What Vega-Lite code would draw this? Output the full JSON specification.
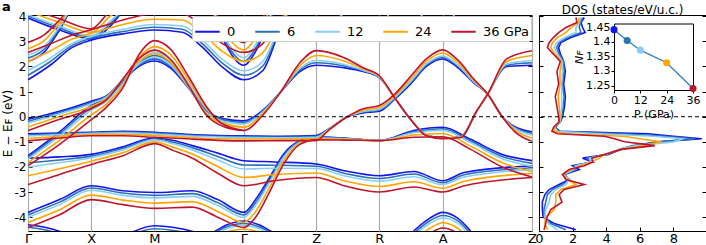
{"$schema":"https://vega.github.io/schema/vega-lite/v6.json","padding":{"left":0,"top":0,"right":0,"bottom":0},"bounds":"flush","spacing":7,
"config":{"font":"DejaVu Sans","view":{"stroke":"black","strokeWidth":1},"axis":{"labelColor":"black","titleColor":"black","domainColor":"black","tickColor":"black","labelFontSize":13,"titleFontSize":13,"titleFontWeight":"normal","grid":false,"labelFlush":false,"labelOverlap":false,"minExtent":0},"title":{"fontWeight":"normal","color":"black"}},
"datasets":{
"nf":[{"p":0,"n":1.441},{"p":6,"n":1.404},{"p":12,"n":1.371},{"p":24,"n":1.328},{"p":36,"n":1.24}],
"dos":[
{"p":0,"e":3.95,"d":2.7},{"p":0,"e":3.75,"d":2.5},{"p":0,"e":3.55,"d":2.6},{"p":0,"e":3.35,"d":2.75},{"p":0,"e":3.15,"d":1.9},{"p":0,"e":2.95,"d":1.3},{"p":0,"e":2.75,"d":1.17},{"p":0,"e":2.5,"d":1.27},{"p":0,"e":2.2,"d":1.47},{"p":0,"e":1.8,"d":1.57},{"p":0,"e":1.3,"d":1.47},{"p":0,"e":0.8,"d":1.57},{"p":0,"e":0.4,"d":1.52},{"p":0,"e":0.0,"d":1.4},{"p":0,"e":-0.2,"d":1.27},{"p":0,"e":-0.42,"d":0.97},{"p":0,"e":-0.58,"d":1.25},{"p":0,"e":-0.68,"d":6.5},{"p":0,"e":-0.78,"d":8.0},{"p":0,"e":-0.88,"d":9.7},{"p":0,"e":-1.0,"d":7.0},{"p":0,"e":-1.15,"d":5.8},{"p":0,"e":-1.3,"d":4.9},{"p":0,"e":-1.5,"d":4.15},{"p":0,"e":-1.65,"d":2.6},{"p":0,"e":-1.8,"d":3.2},{"p":0,"e":-1.95,"d":2.0},{"p":0,"e":-2.1,"d":2.4},{"p":0,"e":-2.3,"d":1.5},{"p":0,"e":-2.5,"d":1.8},{"p":0,"e":-2.7,"d":1.2},{"p":0,"e":-2.9,"d":0.6},{"p":0,"e":-3.1,"d":0.35},{"p":0,"e":-3.4,"d":0.2},{"p":0,"e":-3.7,"d":0.2},{"p":0,"e":-4.0,"d":0.25},{"p":0,"e":-4.25,"d":0.9},{"p":0,"e":-4.5,"d":2.2},
{"p":6,"e":3.95,"d":2.6},{"p":6,"e":3.75,"d":2.45},{"p":6,"e":3.55,"d":2.4},{"p":6,"e":3.35,"d":2.5},{"p":6,"e":3.15,"d":1.7},{"p":6,"e":2.95,"d":1.2},{"p":6,"e":2.75,"d":1.05},{"p":6,"e":2.5,"d":1.2},{"p":6,"e":2.2,"d":1.45},{"p":6,"e":1.8,"d":1.5},{"p":6,"e":1.3,"d":1.4},{"p":6,"e":0.8,"d":1.5},{"p":6,"e":0.4,"d":1.45},{"p":6,"e":0.0,"d":1.35},{"p":6,"e":-0.2,"d":1.27},{"p":6,"e":-0.42,"d":0.95},{"p":6,"e":-0.58,"d":1.2},{"p":6,"e":-0.68,"d":5.0},{"p":6,"e":-0.78,"d":7.5},{"p":6,"e":-0.88,"d":9.3},{"p":6,"e":-1.0,"d":7.2},{"p":6,"e":-1.15,"d":5.6},{"p":6,"e":-1.3,"d":4.8},{"p":6,"e":-1.5,"d":4.0},{"p":6,"e":-1.65,"d":2.9},{"p":6,"e":-1.8,"d":3.1},{"p":6,"e":-1.95,"d":2.1},{"p":6,"e":-2.1,"d":2.2},{"p":6,"e":-2.3,"d":1.5},{"p":6,"e":-2.5,"d":1.8},{"p":6,"e":-2.7,"d":1.4},{"p":6,"e":-2.9,"d":0.8},{"p":6,"e":-3.1,"d":0.5},{"p":6,"e":-3.4,"d":0.4},{"p":6,"e":-3.7,"d":0.3},{"p":6,"e":-4.0,"d":0.3},{"p":6,"e":-4.25,"d":0.7},{"p":6,"e":-4.5,"d":1.6},
{"p":12,"e":3.95,"d":2.5},{"p":12,"e":3.75,"d":2.4},{"p":12,"e":3.55,"d":2.2},{"p":12,"e":3.35,"d":2.2},{"p":12,"e":3.15,"d":1.5},{"p":12,"e":2.95,"d":1.05},{"p":12,"e":2.75,"d":0.9},{"p":12,"e":2.5,"d":1.1},{"p":12,"e":2.2,"d":1.4},{"p":12,"e":1.8,"d":1.4},{"p":12,"e":1.3,"d":1.35},{"p":12,"e":0.8,"d":1.35},{"p":12,"e":0.4,"d":1.35},{"p":12,"e":0.0,"d":1.3},{"p":12,"e":-0.2,"d":1.25},{"p":12,"e":-0.42,"d":0.92},{"p":12,"e":-0.58,"d":1.1},{"p":12,"e":-0.68,"d":3.5},{"p":12,"e":-0.78,"d":6.8},{"p":12,"e":-0.88,"d":8.6},{"p":12,"e":-1.0,"d":8.0},{"p":12,"e":-1.15,"d":5.8},{"p":12,"e":-1.3,"d":4.8},{"p":12,"e":-1.5,"d":4.0},{"p":12,"e":-1.65,"d":3.0},{"p":12,"e":-1.8,"d":3.1},{"p":12,"e":-1.95,"d":2.2},{"p":12,"e":-2.1,"d":2.1},{"p":12,"e":-2.3,"d":1.45},{"p":12,"e":-2.5,"d":1.8},{"p":12,"e":-2.7,"d":1.6},{"p":12,"e":-2.9,"d":1.0},{"p":12,"e":-3.1,"d":0.7},{"p":12,"e":-3.4,"d":0.6},{"p":12,"e":-3.7,"d":0.4},{"p":12,"e":-4.0,"d":0.35},{"p":12,"e":-4.25,"d":0.55},{"p":12,"e":-4.5,"d":1.1},
{"p":24,"e":3.95,"d":2.4},{"p":24,"e":3.75,"d":2.35},{"p":24,"e":3.55,"d":1.9},{"p":24,"e":3.35,"d":1.6},{"p":24,"e":3.15,"d":1.1},{"p":24,"e":2.95,"d":0.8},{"p":24,"e":2.75,"d":0.7},{"p":24,"e":2.5,"d":0.95},{"p":24,"e":2.2,"d":1.35},{"p":24,"e":1.8,"d":1.25},{"p":24,"e":1.3,"d":1.25},{"p":24,"e":0.8,"d":1.15},{"p":24,"e":0.4,"d":1.2},{"p":24,"e":0.0,"d":1.25},{"p":24,"e":-0.2,"d":1.22},{"p":24,"e":-0.42,"d":0.9},{"p":24,"e":-0.58,"d":0.9},{"p":24,"e":-0.68,"d":1.6},{"p":24,"e":-0.78,"d":5.0},{"p":24,"e":-0.88,"d":6.0},{"p":24,"e":-1.0,"d":7.3},{"p":24,"e":-1.15,"d":6.2},{"p":24,"e":-1.3,"d":4.9},{"p":24,"e":-1.5,"d":3.9},{"p":24,"e":-1.65,"d":3.6},{"p":24,"e":-1.8,"d":3.1},{"p":24,"e":-1.95,"d":2.5},{"p":24,"e":-2.1,"d":1.9},{"p":24,"e":-2.3,"d":1.4},{"p":24,"e":-2.5,"d":1.7},{"p":24,"e":-2.7,"d":2.2},{"p":24,"e":-2.9,"d":1.3},{"p":24,"e":-3.1,"d":1.0},{"p":24,"e":-3.4,"d":1.0},{"p":24,"e":-3.7,"d":0.9},{"p":24,"e":-4.0,"d":0.4},{"p":24,"e":-4.25,"d":0.35},{"p":24,"e":-4.5,"d":0.5},
{"p":36,"e":3.95,"d":2.2},{"p":36,"e":3.75,"d":2.26},{"p":36,"e":3.55,"d":1.6},{"p":36,"e":3.35,"d":1.17},{"p":36,"e":3.15,"d":0.85},{"p":36,"e":2.95,"d":0.6},{"p":36,"e":2.75,"d":0.5},{"p":36,"e":2.5,"d":0.85},{"p":36,"e":2.2,"d":1.27},{"p":36,"e":1.8,"d":1.07},{"p":36,"e":1.3,"d":1.17},{"p":36,"e":0.8,"d":0.97},{"p":36,"e":0.4,"d":1.07},{"p":36,"e":0.0,"d":1.17},{"p":36,"e":-0.2,"d":1.2},{"p":36,"e":-0.42,"d":0.87},{"p":36,"e":-0.58,"d":0.77},{"p":36,"e":-0.68,"d":1.1},{"p":36,"e":-0.78,"d":3.9},{"p":36,"e":-0.88,"d":4.5},{"p":36,"e":-1.0,"d":5.1},{"p":36,"e":-1.15,"d":6.9},{"p":36,"e":-1.3,"d":4.9},{"p":36,"e":-1.5,"d":3.9},{"p":36,"e":-1.65,"d":3.15},{"p":36,"e":-1.8,"d":3.2},{"p":36,"e":-1.95,"d":2.7},{"p":36,"e":-2.1,"d":1.8},{"p":36,"e":-2.3,"d":1.4},{"p":36,"e":-2.5,"d":1.6},{"p":36,"e":-2.7,"d":2.7},{"p":36,"e":-2.9,"d":1.5},{"p":36,"e":-3.1,"d":1.2},{"p":36,"e":-3.4,"d":1.37},{"p":36,"e":-3.7,"d":0.7},{"p":36,"e":-4.0,"d":0.48},{"p":36,"e":-4.25,"d":0.4},{"p":36,"e":-4.5,"d":0.3}],
"bands":[
{"p":0,"b":1,"k":0,"e":1.47},{"p":0,"b":1,"k":0.35,"e":2.05},{"p":0,"b":1,"k":0.7,"e":2.76},{"p":0,"b":1,"k":1,"e":3.05},{"p":0,"b":1,"k":1.5,"e":3.3},{"p":0,"b":1,"k":2,"e":3.45},{"p":0,"b":1,"k":2.44,"e":3.36},{"p":0,"b":1,"k":2.76,"e":2.76},{"p":0,"b":1,"k":3.08,"e":1.96},{"p":0,"b":1,"k":3.414,"e":1.47},{"p":0,"b":1,"k":3.71,"e":1.83},{"p":0,"b":1,"k":3.98,"e":3.43},{"p":0,"b":1,"k":4.15,"e":4.3},
{"p":6,"b":1,"k":0,"e":1.65},{"p":6,"b":1,"k":0.35,"e":2.19},{"p":6,"b":1,"k":0.7,"e":2.84},{"p":6,"b":1,"k":1,"e":3.12},{"p":6,"b":1,"k":1.5,"e":3.39},{"p":6,"b":1,"k":2,"e":3.56},{"p":6,"b":1,"k":2.44,"e":3.48},{"p":6,"b":1,"k":2.76,"e":2.9},{"p":6,"b":1,"k":3.08,"e":2.12},{"p":6,"b":1,"k":3.414,"e":1.65},{"p":6,"b":1,"k":3.71,"e":2.01},{"p":6,"b":1,"k":3.98,"e":3.5},{"p":6,"b":1,"k":4.15,"e":4.32},
{"p":12,"b":1,"k":0,"e":1.83},{"p":12,"b":1,"k":0.35,"e":2.33},{"p":12,"b":1,"k":0.7,"e":2.92},{"p":12,"b":1,"k":1,"e":3.19},{"p":12,"b":1,"k":1.5,"e":3.48},{"p":12,"b":1,"k":2,"e":3.67},{"p":12,"b":1,"k":2.44,"e":3.61},{"p":12,"b":1,"k":2.76,"e":3.04},{"p":12,"b":1,"k":3.08,"e":2.27},{"p":12,"b":1,"k":3.414,"e":1.83},{"p":12,"b":1,"k":3.71,"e":2.19},{"p":12,"b":1,"k":3.98,"e":3.57},{"p":12,"b":1,"k":4.15,"e":4.33},
{"p":24,"b":1,"k":0,"e":2.2},{"p":24,"b":1,"k":0.35,"e":2.62},{"p":24,"b":1,"k":0.7,"e":3.09},{"p":24,"b":1,"k":1,"e":3.32},{"p":24,"b":1,"k":1.5,"e":3.67},{"p":24,"b":1,"k":2,"e":3.88},{"p":24,"b":1,"k":2.44,"e":3.85},{"p":24,"b":1,"k":2.76,"e":3.32},{"p":24,"b":1,"k":3.08,"e":2.59},{"p":24,"b":1,"k":3.414,"e":2.2},{"p":24,"b":1,"k":3.71,"e":2.54},{"p":24,"b":1,"k":3.98,"e":3.71},{"p":24,"b":1,"k":4.15,"e":4.37},
{"p":36,"b":1,"k":0,"e":2.56},{"p":36,"b":1,"k":0.35,"e":2.9},{"p":36,"b":1,"k":0.7,"e":3.25},{"p":36,"b":1,"k":1,"e":3.46},{"p":36,"b":1,"k":1.5,"e":3.85},{"p":36,"b":1,"k":2,"e":4.1},{"p":36,"b":1,"k":2.44,"e":4.1},{"p":36,"b":1,"k":2.76,"e":3.6},{"p":36,"b":1,"k":3.08,"e":2.9},{"p":36,"b":1,"k":3.414,"e":2.56},{"p":36,"b":1,"k":3.71,"e":2.9},{"p":36,"b":1,"k":3.98,"e":3.85},{"p":36,"b":1,"k":4.15,"e":4.4},
{"p":0,"b":2,"k":0,"e":2.2},{"p":0,"b":2,"k":0.25,"e":2.55},{"p":0,"b":2,"k":0.5,"e":3.45},{"p":0,"b":2,"k":0.75,"e":4.4},{"p":0,"b":2,"k":2.9,"e":4.15},{"p":0,"b":2,"k":3.1,"e":3.0},{"p":0,"b":2,"k":3.414,"e":2.05},{"p":0,"b":2,"k":3.6,"e":2.6},{"p":0,"b":2,"k":3.8,"e":3.7},{"p":0,"b":2,"k":3.95,"e":4.5},
{"p":6,"b":2,"k":0,"e":2.33},{"p":6,"b":2,"k":0.25,"e":2.67},{"p":6,"b":2,"k":0.5,"e":3.52},{"p":6,"b":2,"k":0.75,"e":4.42},{"p":6,"b":2,"k":2.9,"e":4.18},{"p":6,"b":2,"k":3.1,"e":3.1},{"p":6,"b":2,"k":3.414,"e":2.2},{"p":6,"b":2,"k":3.6,"e":2.73},{"p":6,"b":2,"k":3.8,"e":3.8},{"p":6,"b":2,"k":3.95,"e":4.5},
{"p":12,"b":2,"k":0,"e":2.45},{"p":12,"b":2,"k":0.25,"e":2.78},{"p":12,"b":2,"k":0.5,"e":3.58},{"p":12,"b":2,"k":0.75,"e":4.43},{"p":12,"b":2,"k":2.9,"e":4.2},{"p":12,"b":2,"k":3.1,"e":3.2},{"p":12,"b":2,"k":3.414,"e":2.35},{"p":12,"b":2,"k":3.6,"e":2.87},{"p":12,"b":2,"k":3.8,"e":3.9},{"p":12,"b":2,"k":3.95,"e":4.5},
{"p":24,"b":2,"k":0,"e":2.71},{"p":24,"b":2,"k":0.25,"e":3.02},{"p":24,"b":2,"k":0.5,"e":3.72},{"p":24,"b":2,"k":0.75,"e":4.47},{"p":24,"b":2,"k":2.9,"e":4.25},{"p":24,"b":2,"k":3.1,"e":3.4},{"p":24,"b":2,"k":3.414,"e":2.66},{"p":24,"b":2,"k":3.6,"e":3.13},{"p":24,"b":2,"k":3.8,"e":4.1},{"p":24,"b":2,"k":3.95,"e":4.5},
{"p":36,"b":2,"k":0,"e":2.96},{"p":36,"b":2,"k":0.25,"e":3.25},{"p":36,"b":2,"k":0.5,"e":3.85},{"p":36,"b":2,"k":0.75,"e":4.5},{"p":36,"b":2,"k":2.9,"e":4.3},{"p":36,"b":2,"k":3.1,"e":3.6},{"p":36,"b":2,"k":3.414,"e":2.96},{"p":36,"b":2,"k":3.6,"e":3.4},{"p":36,"b":2,"k":3.8,"e":4.3},{"p":36,"b":2,"k":3.95,"e":4.5},
{"p":0,"b":3,"k":0,"e":3.93},{"p":0,"b":3,"k":0.5,"e":3.45},{"p":0,"b":3,"k":1,"e":3.1},{"p":0,"b":3,"k":1.3,"e":3.6},{"p":0,"b":3,"k":1.55,"e":4.4},
{"p":6,"b":3,"k":0,"e":4.0},{"p":6,"b":3,"k":0.5,"e":3.53},{"p":6,"b":3,"k":1,"e":3.16},{"p":6,"b":3,"k":1.3,"e":3.7},{"p":6,"b":3,"k":1.55,"e":4.4},
{"p":12,"b":3,"k":0,"e":4.06},{"p":12,"b":3,"k":0.5,"e":3.6},{"p":12,"b":3,"k":1,"e":3.23},{"p":12,"b":3,"k":1.3,"e":3.8},{"p":12,"b":3,"k":1.55,"e":4.4},
{"p":24,"b":3,"k":0,"e":4.2},{"p":24,"b":3,"k":0.5,"e":3.75},{"p":24,"b":3,"k":1,"e":3.36},{"p":24,"b":3,"k":1.3,"e":4.0},{"p":24,"b":3,"k":1.55,"e":4.45},
{"p":36,"b":3,"k":0,"e":4.33},{"p":36,"b":3,"k":0.5,"e":3.9},{"p":36,"b":3,"k":1,"e":3.5},{"p":36,"b":3,"k":1.3,"e":4.2},{"p":36,"b":3,"k":1.55,"e":4.5},
{"p":0,"b":4,"k":4.9,"e":4.2},{"p":0,"b":4,"k":5.1,"e":3.5},{"p":0,"b":4,"k":5.35,"e":3.32},{"p":0,"b":4,"k":5.557,"e":3.22},{"p":0,"b":4,"k":5.62,"e":3.4},{"p":0,"b":4,"k":5.72,"e":4.2},
{"p":6,"b":4,"k":4.9,"e":4.24},{"p":6,"b":4,"k":5.1,"e":3.54},{"p":6,"b":4,"k":5.35,"e":3.36},{"p":6,"b":4,"k":5.557,"e":3.26},{"p":6,"b":4,"k":5.62,"e":3.44},{"p":6,"b":4,"k":5.72,"e":4.24},
{"p":12,"b":4,"k":4.9,"e":4.28},{"p":12,"b":4,"k":5.1,"e":3.58},{"p":12,"b":4,"k":5.35,"e":3.4},{"p":12,"b":4,"k":5.557,"e":3.3},{"p":12,"b":4,"k":5.62,"e":3.48},{"p":12,"b":4,"k":5.72,"e":4.28},
{"p":0,"b":5,"k":6.2,"e":4.2},{"p":0,"b":5,"k":6.31,"e":3.43},{"p":0,"b":5,"k":6.47,"e":3.3},{"p":0,"b":5,"k":6.65,"e":3.43},{"p":0,"b":5,"k":6.76,"e":4.2},
{"p":6,"b":5,"k":6.2,"e":4.24},{"p":6,"b":5,"k":6.31,"e":3.47},{"p":6,"b":5,"k":6.47,"e":3.34},{"p":6,"b":5,"k":6.65,"e":3.47},{"p":6,"b":5,"k":6.76,"e":4.24},
{"p":12,"b":5,"k":6.2,"e":4.28},{"p":12,"b":5,"k":6.31,"e":3.51},{"p":12,"b":5,"k":6.47,"e":3.38},{"p":12,"b":5,"k":6.65,"e":3.51},{"p":12,"b":5,"k":6.76,"e":4.28},
{"p":0,"b":6,"k":0,"e":-0.1},{"p":0,"b":6,"k":0.5,"e":0.22},{"p":0,"b":6,"k":1,"e":0.62},{"p":0,"b":6,"k":1.25,"e":0.85},{"p":0,"b":6,"k":1.5,"e":1.45},{"p":0,"b":6,"k":1.75,"e":2.0},{"p":0,"b":6,"k":2,"e":2.22},{"p":0,"b":6,"k":2.25,"e":1.95},{"p":0,"b":6,"k":2.55,"e":1.1},{"p":0,"b":6,"k":2.81,"e":0.25},{"p":0,"b":6,"k":3.1,"e":-0.08},{"p":0,"b":6,"k":3.414,"e":-0.16},{"p":0,"b":6,"k":3.71,"e":0.25},{"p":0,"b":6,"k":4,"e":1.0},{"p":0,"b":6,"k":4.3,"e":1.8},{"p":0,"b":6,"k":4.557,"e":2.05},{"p":0,"b":6,"k":5,"e":1.95},{"p":0,"b":6,"k":5.3,"e":1.8},{"p":0,"b":6,"k":5.557,"e":1.56},{"p":0,"b":6,"k":5.8,"e":0.75},{"p":0,"b":6,"k":6.05,"e":-0.1},{"p":0,"b":6,"k":6.3,"e":-0.72},{"p":0,"b":6,"k":6.557,"e":-0.85},{"p":0,"b":6,"k":6.84,"e":-0.8},{"p":0,"b":6,"k":7.1,"e":0.24},{"p":0,"b":6,"k":7.27,"e":0.9},{"p":0,"b":6,"k":7.57,"e":2.0},{"p":0,"b":6,"k":7.971,"e":2.05},
{"p":6,"b":6,"k":0,"e":-0.18},{"p":6,"b":6,"k":0.5,"e":0.17},{"p":6,"b":6,"k":1,"e":0.57},{"p":6,"b":6,"k":1.25,"e":0.83},{"p":6,"b":6,"k":1.5,"e":1.46},{"p":6,"b":6,"k":1.75,"e":2.05},{"p":6,"b":6,"k":2,"e":2.29},{"p":6,"b":6,"k":2.25,"e":2.01},{"p":6,"b":6,"k":2.55,"e":1.12},{"p":6,"b":6,"k":2.81,"e":0.23},{"p":6,"b":6,"k":3.1,"e":-0.13},{"p":6,"b":6,"k":3.414,"e":-0.23},{"p":6,"b":6,"k":3.71,"e":0.22},{"p":6,"b":6,"k":4,"e":1.0},{"p":6,"b":6,"k":4.3,"e":1.86},{"p":6,"b":6,"k":4.557,"e":2.15},{"p":6,"b":6,"k":5,"e":2.02},{"p":6,"b":6,"k":5.3,"e":1.83},{"p":6,"b":6,"k":5.557,"e":1.57},{"p":6,"b":6,"k":5.8,"e":0.75},{"p":6,"b":6,"k":6.05,"e":-0.1},{"p":6,"b":6,"k":6.3,"e":-0.73},{"p":6,"b":6,"k":6.557,"e":-0.86},{"p":6,"b":6,"k":6.84,"e":-0.8},{"p":6,"b":6,"k":7.1,"e":0.24},{"p":6,"b":6,"k":7.27,"e":0.9},{"p":6,"b":6,"k":7.57,"e":2.05},{"p":6,"b":6,"k":7.971,"e":2.15},
{"p":12,"b":6,"k":0,"e":-0.25},{"p":12,"b":6,"k":0.5,"e":0.11},{"p":12,"b":6,"k":1,"e":0.52},{"p":12,"b":6,"k":1.25,"e":0.8},{"p":12,"b":6,"k":1.5,"e":1.47},{"p":12,"b":6,"k":1.75,"e":2.1},{"p":12,"b":6,"k":2,"e":2.36},{"p":12,"b":6,"k":2.25,"e":2.07},{"p":12,"b":6,"k":2.55,"e":1.13},{"p":12,"b":6,"k":2.81,"e":0.2},{"p":12,"b":6,"k":3.1,"e":-0.19},{"p":12,"b":6,"k":3.414,"e":-0.29},{"p":12,"b":6,"k":3.71,"e":0.18},{"p":12,"b":6,"k":4,"e":1.0},{"p":12,"b":6,"k":4.3,"e":1.92},{"p":12,"b":6,"k":4.557,"e":2.24},{"p":12,"b":6,"k":5,"e":2.08},{"p":12,"b":6,"k":5.3,"e":1.85},{"p":12,"b":6,"k":5.557,"e":1.58},{"p":12,"b":6,"k":5.8,"e":0.75},{"p":12,"b":6,"k":6.05,"e":-0.1},{"p":12,"b":6,"k":6.3,"e":-0.73},{"p":12,"b":6,"k":6.557,"e":-0.86},{"p":12,"b":6,"k":6.84,"e":-0.81},{"p":12,"b":6,"k":7.1,"e":0.24},{"p":12,"b":6,"k":7.27,"e":0.9},{"p":12,"b":6,"k":7.57,"e":2.1},{"p":12,"b":6,"k":7.971,"e":2.24},
{"p":24,"b":6,"k":0,"e":-0.4},{"p":24,"b":6,"k":0.5,"e":0.01},{"p":24,"b":6,"k":1,"e":0.42},{"p":24,"b":6,"k":1.25,"e":0.75},{"p":24,"b":6,"k":1.5,"e":1.48},{"p":24,"b":6,"k":1.75,"e":2.2},{"p":24,"b":6,"k":2,"e":2.51},{"p":24,"b":6,"k":2.25,"e":2.18},{"p":24,"b":6,"k":2.55,"e":1.17},{"p":24,"b":6,"k":2.81,"e":0.15},{"p":24,"b":6,"k":3.1,"e":-0.29},{"p":24,"b":6,"k":3.414,"e":-0.42},{"p":24,"b":6,"k":3.71,"e":0.12},{"p":24,"b":6,"k":4,"e":1.0},{"p":24,"b":6,"k":4.3,"e":2.03},{"p":24,"b":6,"k":4.557,"e":2.44},{"p":24,"b":6,"k":5,"e":2.22},{"p":24,"b":6,"k":5.3,"e":1.9},{"p":24,"b":6,"k":5.557,"e":1.61},{"p":24,"b":6,"k":5.8,"e":0.75},{"p":24,"b":6,"k":6.05,"e":-0.1},{"p":24,"b":6,"k":6.3,"e":-0.75},{"p":24,"b":6,"k":6.557,"e":-0.87},{"p":24,"b":6,"k":6.84,"e":-0.82},{"p":24,"b":6,"k":7.1,"e":0.24},{"p":24,"b":6,"k":7.27,"e":0.9},{"p":24,"b":6,"k":7.57,"e":2.2},{"p":24,"b":6,"k":7.971,"e":2.44},
{"p":36,"b":6,"k":0,"e":-0.55},{"p":36,"b":6,"k":0.5,"e":-0.1},{"p":36,"b":6,"k":1,"e":0.32},{"p":36,"b":6,"k":1.25,"e":0.7},{"p":36,"b":6,"k":1.5,"e":1.5},{"p":36,"b":6,"k":1.75,"e":2.3},{"p":36,"b":6,"k":2,"e":2.65},{"p":36,"b":6,"k":2.25,"e":2.3},{"p":36,"b":6,"k":2.55,"e":1.2},{"p":36,"b":6,"k":2.81,"e":0.1},{"p":36,"b":6,"k":3.1,"e":-0.4},{"p":36,"b":6,"k":3.414,"e":-0.55},{"p":36,"b":6,"k":3.71,"e":0.05},{"p":36,"b":6,"k":4,"e":1.0},{"p":36,"b":6,"k":4.3,"e":2.15},{"p":36,"b":6,"k":4.557,"e":2.63},{"p":36,"b":6,"k":5,"e":2.35},{"p":36,"b":6,"k":5.3,"e":1.95},{"p":36,"b":6,"k":5.557,"e":1.63},{"p":36,"b":6,"k":5.8,"e":0.75},{"p":36,"b":6,"k":6.05,"e":-0.1},{"p":36,"b":6,"k":6.3,"e":-0.76},{"p":36,"b":6,"k":6.557,"e":-0.88},{"p":36,"b":6,"k":6.84,"e":-0.83},{"p":36,"b":6,"k":7.1,"e":0.24},{"p":36,"b":6,"k":7.27,"e":0.9},{"p":36,"b":6,"k":7.57,"e":2.3},{"p":36,"b":6,"k":7.971,"e":2.63},
{"p":0,"b":7,"k":0,"e":-1.55},{"p":0,"b":7,"k":0.5,"e":-0.6},{"p":0,"b":7,"k":1,"e":0.45},{"p":0,"b":7,"k":1.25,"e":0.75},{"p":0,"b":7,"k":1.5,"e":1.4},{"p":0,"b":7,"k":1.75,"e":2.05},{"p":0,"b":7,"k":2,"e":2.32},{"p":0,"b":7,"k":2.25,"e":2.05},{"p":0,"b":7,"k":2.55,"e":1.15},{"p":0,"b":7,"k":2.81,"e":0.3},{"p":0,"b":7,"k":3.05,"e":-0.15},{"p":0,"b":7,"k":3.414,"e":-0.16},
{"p":6,"b":7,"k":0,"e":-1.62},{"p":6,"b":7,"k":0.5,"e":-0.68},{"p":6,"b":7,"k":1,"e":0.36},{"p":6,"b":7,"k":1.25,"e":0.69},{"p":6,"b":7,"k":1.5,"e":1.36},{"p":6,"b":7,"k":1.75,"e":2.12},{"p":6,"b":7,"k":2,"e":2.44},{"p":6,"b":7,"k":2.25,"e":2.16},{"p":6,"b":7,"k":2.55,"e":1.22},{"p":6,"b":7,"k":2.81,"e":0.33},{"p":6,"b":7,"k":3.05,"e":-0.17},{"p":6,"b":7,"k":3.414,"e":-0.23},
{"p":12,"b":7,"k":0,"e":-1.68},{"p":12,"b":7,"k":0.5,"e":-0.77},{"p":12,"b":7,"k":1,"e":0.26},{"p":12,"b":7,"k":1.25,"e":0.63},{"p":12,"b":7,"k":1.5,"e":1.32},{"p":12,"b":7,"k":1.75,"e":2.18},{"p":12,"b":7,"k":2,"e":2.56},{"p":12,"b":7,"k":2.25,"e":2.27},{"p":12,"b":7,"k":2.55,"e":1.28},{"p":12,"b":7,"k":2.81,"e":0.35},{"p":12,"b":7,"k":3.05,"e":-0.18},{"p":12,"b":7,"k":3.414,"e":-0.29},
{"p":24,"b":7,"k":0,"e":-1.82},{"p":24,"b":7,"k":0.5,"e":-0.93},{"p":24,"b":7,"k":1,"e":0.07},{"p":24,"b":7,"k":1.25,"e":0.52},{"p":24,"b":7,"k":1.5,"e":1.23},{"p":24,"b":7,"k":1.75,"e":2.32},{"p":24,"b":7,"k":2,"e":2.79},{"p":24,"b":7,"k":2.25,"e":2.48},{"p":24,"b":7,"k":2.55,"e":1.42},{"p":24,"b":7,"k":2.81,"e":0.4},{"p":24,"b":7,"k":3.05,"e":-0.22},{"p":24,"b":7,"k":3.414,"e":-0.42},
{"p":36,"b":7,"k":0,"e":-1.95},{"p":36,"b":7,"k":0.5,"e":-1.1},{"p":36,"b":7,"k":1,"e":-0.12},{"p":36,"b":7,"k":1.25,"e":0.4},{"p":36,"b":7,"k":1.5,"e":1.15},{"p":36,"b":7,"k":1.75,"e":2.45},{"p":36,"b":7,"k":2,"e":3.03},{"p":36,"b":7,"k":2.25,"e":2.7},{"p":36,"b":7,"k":2.55,"e":1.55},{"p":36,"b":7,"k":2.81,"e":0.45},{"p":36,"b":7,"k":3.05,"e":-0.25},{"p":36,"b":7,"k":3.414,"e":-0.55},
{"p":0,"b":8,"k":0,"e":-0.68},{"p":0,"b":8,"k":0.5,"e":-0.65},{"p":0,"b":8,"k":1,"e":-0.62},{"p":0,"b":8,"k":1.5,"e":-0.58},{"p":0,"b":8,"k":2,"e":-0.62},{"p":0,"b":8,"k":2.5,"e":-0.7},{"p":0,"b":8,"k":3,"e":-0.75},{"p":0,"b":8,"k":3.414,"e":-0.76},{"p":0,"b":8,"k":4,"e":-0.78},{"p":0,"b":8,"k":4.557,"e":-0.75},{"p":0,"b":8,"k":4.75,"e":-0.5},{"p":0,"b":8,"k":5.05,"e":0.0},{"p":0,"b":8,"k":5.3,"e":0.15},{"p":0,"b":8,"k":5.557,"e":0.22},{"p":0,"b":8,"k":5.8,"e":0.7},{"p":0,"b":8,"k":6.05,"e":1.3},{"p":0,"b":8,"k":6.3,"e":2.0},{"p":0,"b":8,"k":6.557,"e":2.3},{"p":0,"b":8,"k":6.8,"e":1.95},{"p":0,"b":8,"k":7.05,"e":1.35},{"p":0,"b":8,"k":7.27,"e":0.9},{"p":0,"b":8,"k":7.5,"e":0.0},{"p":0,"b":8,"k":7.7,"e":-0.4},{"p":0,"b":8,"k":7.971,"e":-0.6},
{"p":6,"b":8,"k":0,"e":-0.73},{"p":6,"b":8,"k":0.5,"e":-0.68},{"p":6,"b":8,"k":1,"e":-0.64},{"p":6,"b":8,"k":1.5,"e":-0.61},{"p":6,"b":8,"k":2,"e":-0.65},{"p":6,"b":8,"k":2.5,"e":-0.73},{"p":6,"b":8,"k":3,"e":-0.78},{"p":6,"b":8,"k":3.414,"e":-0.79},{"p":6,"b":8,"k":4,"e":-0.81},{"p":6,"b":8,"k":4.557,"e":-0.78},{"p":6,"b":8,"k":4.75,"e":-0.51},{"p":6,"b":8,"k":5.05,"e":0.0},{"p":6,"b":8,"k":5.3,"e":0.18},{"p":6,"b":8,"k":5.557,"e":0.26},{"p":6,"b":8,"k":5.8,"e":0.73},{"p":6,"b":8,"k":6.05,"e":1.35},{"p":6,"b":8,"k":6.3,"e":2.05},{"p":6,"b":8,"k":6.557,"e":2.36},{"p":6,"b":8,"k":6.8,"e":2.0},{"p":6,"b":8,"k":7.05,"e":1.38},{"p":6,"b":8,"k":7.27,"e":0.9},{"p":6,"b":8,"k":7.5,"e":0.0},{"p":6,"b":8,"k":7.7,"e":-0.43},{"p":6,"b":8,"k":7.971,"e":-0.66},
{"p":12,"b":8,"k":0,"e":-0.77},{"p":12,"b":8,"k":0.5,"e":-0.72},{"p":12,"b":8,"k":1,"e":-0.67},{"p":12,"b":8,"k":1.5,"e":-0.64},{"p":12,"b":8,"k":2,"e":-0.69},{"p":12,"b":8,"k":2.5,"e":-0.76},{"p":12,"b":8,"k":3,"e":-0.81},{"p":12,"b":8,"k":3.414,"e":-0.83},{"p":12,"b":8,"k":4,"e":-0.84},{"p":12,"b":8,"k":4.557,"e":-0.82},{"p":12,"b":8,"k":4.75,"e":-0.52},{"p":12,"b":8,"k":5.05,"e":0.0},{"p":12,"b":8,"k":5.3,"e":0.21},{"p":12,"b":8,"k":5.557,"e":0.3},{"p":12,"b":8,"k":5.8,"e":0.77},{"p":12,"b":8,"k":6.05,"e":1.4},{"p":12,"b":8,"k":6.3,"e":2.1},{"p":12,"b":8,"k":6.557,"e":2.42},{"p":12,"b":8,"k":6.8,"e":2.05},{"p":12,"b":8,"k":7.05,"e":1.4},{"p":12,"b":8,"k":7.27,"e":0.9},{"p":12,"b":8,"k":7.5,"e":0.0},{"p":12,"b":8,"k":7.7,"e":-0.47},{"p":12,"b":8,"k":7.971,"e":-0.73},
{"p":24,"b":8,"k":0,"e":-0.87},{"p":24,"b":8,"k":0.5,"e":-0.78},{"p":24,"b":8,"k":1,"e":-0.71},{"p":24,"b":8,"k":1.5,"e":-0.7},{"p":24,"b":8,"k":2,"e":-0.75},{"p":24,"b":8,"k":2.5,"e":-0.82},{"p":24,"b":8,"k":3,"e":-0.88},{"p":24,"b":8,"k":3.414,"e":-0.89},{"p":24,"b":8,"k":4,"e":-0.89},{"p":24,"b":8,"k":4.557,"e":-0.88},{"p":24,"b":8,"k":4.75,"e":-0.53},{"p":24,"b":8,"k":5.05,"e":0.0},{"p":24,"b":8,"k":5.3,"e":0.26},{"p":24,"b":8,"k":5.557,"e":0.37},{"p":24,"b":8,"k":5.8,"e":0.83},{"p":24,"b":8,"k":6.05,"e":1.5},{"p":24,"b":8,"k":6.3,"e":2.2},{"p":24,"b":8,"k":6.557,"e":2.54},{"p":24,"b":8,"k":6.8,"e":2.15},{"p":24,"b":8,"k":7.05,"e":1.45},{"p":24,"b":8,"k":7.27,"e":0.9},{"p":24,"b":8,"k":7.5,"e":0.0},{"p":24,"b":8,"k":7.7,"e":-0.53},{"p":24,"b":8,"k":7.971,"e":-0.85},
{"p":36,"b":8,"k":0,"e":-0.96},{"p":36,"b":8,"k":0.5,"e":-0.85},{"p":36,"b":8,"k":1,"e":-0.76},{"p":36,"b":8,"k":1.5,"e":-0.76},{"p":36,"b":8,"k":2,"e":-0.82},{"p":36,"b":8,"k":2.5,"e":-0.88},{"p":36,"b":8,"k":3,"e":-0.94},{"p":36,"b":8,"k":3.414,"e":-0.96},{"p":36,"b":8,"k":4,"e":-0.95},{"p":36,"b":8,"k":4.557,"e":-0.95},{"p":36,"b":8,"k":4.75,"e":-0.55},{"p":36,"b":8,"k":5.05,"e":0.0},{"p":36,"b":8,"k":5.3,"e":0.32},{"p":36,"b":8,"k":5.557,"e":0.45},{"p":36,"b":8,"k":5.8,"e":0.9},{"p":36,"b":8,"k":6.05,"e":1.6},{"p":36,"b":8,"k":6.3,"e":2.3},{"p":36,"b":8,"k":6.557,"e":2.66},{"p":36,"b":8,"k":6.8,"e":2.25},{"p":36,"b":8,"k":7.05,"e":1.5},{"p":36,"b":8,"k":7.27,"e":0.9},{"p":36,"b":8,"k":7.5,"e":0.0},{"p":36,"b":8,"k":7.7,"e":-0.6},{"p":36,"b":8,"k":7.971,"e":-0.98},
{"p":0,"b":9,"k":0,"e":-1.65},{"p":0,"b":9,"k":0.5,"e":-1.6},{"p":0,"b":9,"k":1,"e":-1.5},{"p":0,"b":9,"k":1.5,"e":-1.2},{"p":0,"b":9,"k":2,"e":-0.85},{"p":0,"b":9,"k":2.3,"e":-0.95},{"p":0,"b":9,"k":2.6,"e":-1.15},{"p":0,"b":9,"k":3,"e":-1.45},{"p":0,"b":9,"k":3.414,"e":-1.75},{"p":0,"b":9,"k":3.9,"e":-1.8},{"p":0,"b":9,"k":4.557,"e":-1.88},{"p":0,"b":9,"k":5,"e":-2.15},{"p":0,"b":9,"k":5.557,"e":-2.35},{"p":0,"b":9,"k":6.1,"e":-2.18},{"p":0,"b":9,"k":6.557,"e":-2.55},{"p":0,"b":9,"k":6.9,"e":-2.22},{"p":0,"b":9,"k":7.971,"e":-1.95},
{"p":6,"b":9,"k":0,"e":-1.83},{"p":6,"b":9,"k":0.5,"e":-1.72},{"p":6,"b":9,"k":1,"e":-1.57},{"p":6,"b":9,"k":1.5,"e":-1.26},{"p":6,"b":9,"k":2,"e":-0.89},{"p":6,"b":9,"k":2.3,"e":-1.02},{"p":6,"b":9,"k":2.6,"e":-1.23},{"p":6,"b":9,"k":3,"e":-1.58},{"p":6,"b":9,"k":3.414,"e":-1.92},{"p":6,"b":9,"k":3.9,"e":-1.93},{"p":6,"b":9,"k":4.557,"e":-1.97},{"p":6,"b":9,"k":5,"e":-2.25},{"p":6,"b":9,"k":5.557,"e":-2.46},{"p":6,"b":9,"k":6.1,"e":-2.28},{"p":6,"b":9,"k":6.557,"e":-2.63},{"p":6,"b":9,"k":6.9,"e":-2.31},{"p":6,"b":9,"k":7.971,"e":-2.03},
{"p":12,"b":9,"k":0,"e":-2.0},{"p":12,"b":9,"k":0.5,"e":-1.83},{"p":12,"b":9,"k":1,"e":-1.63},{"p":12,"b":9,"k":1.5,"e":-1.32},{"p":12,"b":9,"k":2,"e":-0.92},{"p":12,"b":9,"k":2.3,"e":-1.08},{"p":12,"b":9,"k":2.6,"e":-1.32},{"p":12,"b":9,"k":3,"e":-1.72},{"p":12,"b":9,"k":3.414,"e":-2.08},{"p":12,"b":9,"k":3.9,"e":-2.05},{"p":12,"b":9,"k":4.557,"e":-2.06},{"p":12,"b":9,"k":5,"e":-2.35},{"p":12,"b":9,"k":5.557,"e":-2.57},{"p":12,"b":9,"k":6.1,"e":-2.39},{"p":12,"b":9,"k":6.557,"e":-2.7},{"p":12,"b":9,"k":6.9,"e":-2.4},{"p":12,"b":9,"k":7.971,"e":-2.11},
{"p":24,"b":9,"k":0,"e":-2.35},{"p":24,"b":9,"k":0.5,"e":-2.07},{"p":24,"b":9,"k":1,"e":-1.77},{"p":24,"b":9,"k":1.5,"e":-1.43},{"p":24,"b":9,"k":2,"e":-1.0},{"p":24,"b":9,"k":2.3,"e":-1.22},{"p":24,"b":9,"k":2.6,"e":-1.48},{"p":24,"b":9,"k":3,"e":-1.98},{"p":24,"b":9,"k":3.414,"e":-2.42},{"p":24,"b":9,"k":3.9,"e":-2.3},{"p":24,"b":9,"k":4.557,"e":-2.24},{"p":24,"b":9,"k":5,"e":-2.55},{"p":24,"b":9,"k":5.557,"e":-2.78},{"p":24,"b":9,"k":6.1,"e":-2.59},{"p":24,"b":9,"k":6.557,"e":-2.85},{"p":24,"b":9,"k":6.9,"e":-2.57},{"p":24,"b":9,"k":7.971,"e":-2.26},
{"p":36,"b":9,"k":0,"e":-2.7},{"p":36,"b":9,"k":0.5,"e":-2.3},{"p":36,"b":9,"k":1,"e":-1.9},{"p":36,"b":9,"k":1.5,"e":-1.55},{"p":36,"b":9,"k":2,"e":-1.07},{"p":36,"b":9,"k":2.3,"e":-1.35},{"p":36,"b":9,"k":2.6,"e":-1.65},{"p":36,"b":9,"k":3,"e":-2.25},{"p":36,"b":9,"k":3.414,"e":-2.75},{"p":36,"b":9,"k":3.9,"e":-2.55},{"p":36,"b":9,"k":4.557,"e":-2.42},{"p":36,"b":9,"k":5,"e":-2.75},{"p":36,"b":9,"k":5.557,"e":-3.0},{"p":36,"b":9,"k":6.1,"e":-2.8},{"p":36,"b":9,"k":6.557,"e":-3.0},{"p":36,"b":9,"k":6.9,"e":-2.75},{"p":36,"b":9,"k":7.971,"e":-2.42},
{"p":0,"b":10,"k":0,"e":-3.81},{"p":0,"b":10,"k":0.5,"e":-3.3},{"p":0,"b":10,"k":1,"e":-2.75},{"p":0,"b":10,"k":1.5,"e":-2.95},{"p":0,"b":10,"k":2,"e":-3.02},{"p":0,"b":10,"k":2.6,"e":-2.95},{"p":0,"b":10,"k":3,"e":-3.3},{"p":0,"b":10,"k":3.414,"e":-3.81},{"p":0,"b":10,"k":3.6,"e":-3.3},{"p":0,"b":10,"k":3.82,"e":-2.42},{"p":0,"b":10,"k":4.04,"e":-1.49},{"p":0,"b":10,"k":4.3,"e":-0.96},{"p":0,"b":10,"k":4.557,"e":-0.8},{"p":0,"b":10,"k":5,"e":-0.85},{"p":0,"b":10,"k":5.557,"e":-0.95},{"p":0,"b":10,"k":6.1,"e":-0.55},{"p":0,"b":10,"k":6.557,"e":-0.42},{"p":0,"b":10,"k":7,"e":-0.9},{"p":0,"b":10,"k":7.5,"e":-1.5},{"p":0,"b":10,"k":7.971,"e":-1.75},
{"p":6,"b":10,"k":0,"e":-3.91},{"p":6,"b":10,"k":0.5,"e":-3.4},{"p":6,"b":10,"k":1,"e":-2.84},{"p":6,"b":10,"k":1.5,"e":-3.04},{"p":6,"b":10,"k":2,"e":-3.13},{"p":6,"b":10,"k":2.6,"e":-3.06},{"p":6,"b":10,"k":3,"e":-3.42},{"p":6,"b":10,"k":3.414,"e":-3.91},{"p":6,"b":10,"k":3.6,"e":-3.42},{"p":6,"b":10,"k":3.82,"e":-2.52},{"p":6,"b":10,"k":4.04,"e":-1.56},{"p":6,"b":10,"k":4.3,"e":-0.98},{"p":6,"b":10,"k":4.557,"e":-0.82},{"p":6,"b":10,"k":5,"e":-0.86},{"p":6,"b":10,"k":5.557,"e":-0.95},{"p":6,"b":10,"k":6.1,"e":-0.6},{"p":6,"b":10,"k":6.557,"e":-0.48},{"p":6,"b":10,"k":7,"e":-0.97},{"p":6,"b":10,"k":7.5,"e":-1.58},{"p":6,"b":10,"k":7.971,"e":-1.86},
{"p":12,"b":10,"k":0,"e":-4.01},{"p":12,"b":10,"k":0.5,"e":-3.5},{"p":12,"b":10,"k":1,"e":-2.93},{"p":12,"b":10,"k":1.5,"e":-3.13},{"p":12,"b":10,"k":2,"e":-3.23},{"p":12,"b":10,"k":2.6,"e":-3.17},{"p":12,"b":10,"k":3,"e":-3.53},{"p":12,"b":10,"k":3.414,"e":-4.01},{"p":12,"b":10,"k":3.6,"e":-3.53},{"p":12,"b":10,"k":3.82,"e":-2.61},{"p":12,"b":10,"k":4.04,"e":-1.63},{"p":12,"b":10,"k":4.3,"e":-1.01},{"p":12,"b":10,"k":4.557,"e":-0.84},{"p":12,"b":10,"k":5,"e":-0.88},{"p":12,"b":10,"k":5.557,"e":-0.95},{"p":12,"b":10,"k":6.1,"e":-0.64},{"p":12,"b":10,"k":6.557,"e":-0.55},{"p":12,"b":10,"k":7,"e":-1.03},{"p":12,"b":10,"k":7.5,"e":-1.67},{"p":12,"b":10,"k":7.971,"e":-1.97},
{"p":24,"b":10,"k":0,"e":-4.21},{"p":24,"b":10,"k":0.5,"e":-3.7},{"p":24,"b":10,"k":1,"e":-3.12},{"p":24,"b":10,"k":1.5,"e":-3.32},{"p":24,"b":10,"k":2,"e":-3.44},{"p":24,"b":10,"k":2.6,"e":-3.38},{"p":24,"b":10,"k":3,"e":-3.77},{"p":24,"b":10,"k":3.414,"e":-4.21},{"p":24,"b":10,"k":3.6,"e":-3.77},{"p":24,"b":10,"k":3.82,"e":-2.81},{"p":24,"b":10,"k":4.04,"e":-1.76},{"p":24,"b":10,"k":4.3,"e":-1.05},{"p":24,"b":10,"k":4.557,"e":-0.88},{"p":24,"b":10,"k":5,"e":-0.9},{"p":24,"b":10,"k":5.557,"e":-0.95},{"p":24,"b":10,"k":6.1,"e":-0.73},{"p":24,"b":10,"k":6.557,"e":-0.67},{"p":24,"b":10,"k":7,"e":-1.17},{"p":24,"b":10,"k":7.5,"e":-1.83},{"p":24,"b":10,"k":7.971,"e":-2.18},
{"p":36,"b":10,"k":0,"e":-4.41},{"p":36,"b":10,"k":0.5,"e":-3.9},{"p":36,"b":10,"k":1,"e":-3.3},{"p":36,"b":10,"k":1.5,"e":-3.5},{"p":36,"b":10,"k":2,"e":-3.65},{"p":36,"b":10,"k":2.6,"e":-3.6},{"p":36,"b":10,"k":3,"e":-4.0},{"p":36,"b":10,"k":3.414,"e":-4.41},{"p":36,"b":10,"k":3.6,"e":-4.0},{"p":36,"b":10,"k":3.82,"e":-3.0},{"p":36,"b":10,"k":4.04,"e":-1.9},{"p":36,"b":10,"k":4.3,"e":-1.1},{"p":36,"b":10,"k":4.557,"e":-0.92},{"p":36,"b":10,"k":5,"e":-0.93},{"p":36,"b":10,"k":5.557,"e":-0.95},{"p":36,"b":10,"k":6.1,"e":-0.82},{"p":36,"b":10,"k":6.557,"e":-0.8},{"p":36,"b":10,"k":7,"e":-1.3},{"p":36,"b":10,"k":7.5,"e":-2.0},{"p":36,"b":10,"k":7.971,"e":-2.4},
{"p":0,"b":11,"k":6.1,"e":-4.55},{"p":0,"b":11,"k":6.35,"e":-4.05},{"p":0,"b":11,"k":6.557,"e":-3.81},{"p":0,"b":11,"k":6.8,"e":-4.05},{"p":0,"b":11,"k":7.0,"e":-4.55},
{"p":6,"b":11,"k":6.1,"e":-4.65},{"p":6,"b":11,"k":6.35,"e":-4.15},{"p":6,"b":11,"k":6.557,"e":-3.93},{"p":6,"b":11,"k":6.8,"e":-4.15},{"p":6,"b":11,"k":7.0,"e":-4.65},
{"p":12,"b":11,"k":6.1,"e":-4.75},{"p":12,"b":11,"k":6.35,"e":-4.25},{"p":12,"b":11,"k":6.557,"e":-4.03},{"p":12,"b":11,"k":6.8,"e":-4.25},{"p":12,"b":11,"k":7.0,"e":-4.75},
{"p":24,"b":11,"k":6.1,"e":-4.95},{"p":24,"b":11,"k":6.35,"e":-4.45},{"p":24,"b":11,"k":6.557,"e":-4.22},{"p":24,"b":11,"k":6.8,"e":-4.45},{"p":24,"b":11,"k":7.0,"e":-4.95},
{"p":36,"b":11,"k":6.1,"e":-5.1},{"p":36,"b":11,"k":6.35,"e":-4.65},{"p":36,"b":11,"k":6.557,"e":-4.43},{"p":36,"b":11,"k":6.8,"e":-4.65},{"p":36,"b":11,"k":7.0,"e":-5.1},
{"p":0,"b":12,"k":1.6,"e":-4.65},{"p":0,"b":12,"k":2,"e":-4.34},{"p":0,"b":12,"k":2.4,"e":-4.45},{"p":0,"b":12,"k":2.8,"e":-4.7},
{"p":6,"b":12,"k":1.6,"e":-4.75},{"p":6,"b":12,"k":2,"e":-4.46},{"p":6,"b":12,"k":2.4,"e":-4.57},{"p":6,"b":12,"k":2.8,"e":-4.8},
{"p":0,"b":13,"k":2.9,"e":-4.65},{"p":0,"b":13,"k":3.15,"e":-4.3},{"p":0,"b":13,"k":3.414,"e":-4.15},{"p":0,"b":13,"k":3.65,"e":-4.3},{"p":0,"b":13,"k":3.9,"e":-4.65},
{"p":6,"b":13,"k":2.9,"e":-4.7},{"p":6,"b":13,"k":3.15,"e":-4.38},{"p":6,"b":13,"k":3.414,"e":-4.25},{"p":6,"b":13,"k":3.65,"e":-4.38},{"p":6,"b":13,"k":3.9,"e":-4.7},
{"p":12,"b":13,"k":2.9,"e":-4.75},{"p":12,"b":13,"k":3.15,"e":-4.45},{"p":12,"b":13,"k":3.414,"e":-4.33},{"p":12,"b":13,"k":3.65,"e":-4.45},{"p":12,"b":13,"k":3.9,"e":-4.75},
{"p":24,"b":13,"k":2.9,"e":-4.9},{"p":24,"b":13,"k":3.15,"e":-4.58},{"p":24,"b":13,"k":3.414,"e":-4.48},{"p":24,"b":13,"k":3.65,"e":-4.58},{"p":24,"b":13,"k":3.9,"e":-4.9},
{"p":36,"b":13,"k":2.9,"e":-5.0},{"p":36,"b":13,"k":3.15,"e":-4.7},{"p":36,"b":13,"k":3.414,"e":-4.6},{"p":36,"b":13,"k":3.65,"e":-4.7},{"p":36,"b":13,"k":3.9,"e":-5.0},
{"p":0,"b":14,"k":0,"e":-4.3},{"p":0,"b":14,"k":0.3,"e":-4.42},{"p":0,"b":14,"k":0.55,"e":-4.6},
{"p":6,"b":14,"k":0,"e":-4.4},{"p":6,"b":14,"k":0.3,"e":-4.52},{"p":6,"b":14,"k":0.55,"e":-4.7}]},
"resolve":{"scale":{"color":"independent"},"legend":{"color":"independent"}},
"hconcat":[
{"width":504,"height":216,
 "title":{"text":"a","anchor":"start","fontSize":13,"fontWeight":"bold","dx":1,"offset":-4},
 "layer":[
  {"data":{"name":"bands"},
   "encoding":{
    "x":{"field":"k","type":"quantitative","scale":{"domain":[0,7.971],"nice":false,"zero":false},
         "axis":{"values":[0,1,2,3.414,4.557,5.557,6.557,7.971],"labelExpr":"datum.value < 0.5 ? 'Γ' : datum.value < 1.5 ? 'X' : datum.value < 2.5 ? 'M' : datum.value < 4 ? 'Γ' : datum.value < 5 ? 'Z' : datum.value < 6 ? 'R' : datum.value < 7 ? 'A' : 'Z'","grid":true,"gridColor":"#b0b0b0","gridWidth":1.2,"ticks":false,"domain":false,"title":null,"labelPadding":1}},
    "y":{"field":"e","type":"quantitative","scale":{"domain":[-4.55,4.05],"nice":false,"zero":false},
         "axis":{"values":[-4,-3,-2,-1,0,1,2,3,4],"labelExpr":"datum.value < 0 ? '-' + abs(datum.value) : '' + datum.value","title":"E − Eꜰ (eV)","titleFontSize":12,"labelFontSize":12,"tickSize":-4,"labelPadding":6,"titlePadding":0,"domain":false}},
    "color":{"field":"p","type":"nominal","scale":{"domain":[0,6,12,24,36],"range":["#1414f0","#2a72b5","#88cdf8","#ffa500","#c0142e"]},
         "legend":{"orient":"top-right","direction":"horizontal","title":null,"offset":1,"fillColor":"white","strokeColor":"#cccccc","cornerRadius":3,"padding":2,"symbolType":"stroke","symbolSize":600,"symbolStrokeWidth":2,"labelFontSize":13,"labelOffset":6,"columnPadding":15,"labelExpr":"datum.value == 36 ? '36 GPa' : datum.label"}},
    "detail":{"field":"b"}},
   "layer":[
    {"transform":[{"filter":"datum.p == 0"}],"mark":{"type":"line","interpolate":"monotone","strokeWidth":1.6,"clip":true}},
    {"transform":[{"filter":"datum.p == 6"}],"mark":{"type":"line","interpolate":"monotone","strokeWidth":1.6,"clip":true}},
    {"transform":[{"filter":"datum.p == 12"}],"mark":{"type":"line","interpolate":"monotone","strokeWidth":1.6,"clip":true}},
    {"transform":[{"filter":"datum.p == 24"}],"mark":{"type":"line","interpolate":"monotone","strokeWidth":1.6,"clip":true}},
    {"transform":[{"filter":"datum.p == 36"}],"mark":{"type":"line","interpolate":"monotone","strokeWidth":1.6,"clip":true}}
   ]},
  {"data":{"values":[{}]},"mark":{"type":"rule","strokeDash":[4,3],"color":"black","strokeWidth":1},
   "encoding":{"y":{"datum":0,"type":"quantitative","scale":{"domain":[-4.55,4.05],"nice":false,"zero":false},
     "axis":{"orient":"right","values":[-4,-3,-2,-1,0,1,2,3,4],"labels":false,"tickSize":-4,"domain":false,"title":null}}}}
 ],
 "resolve":{"axis":{"y":"independent"}}},
{"width":167,"height":216,
 "title":{"text":"DOS (states/eV/u.c.)","fontSize":12,"offset":-2},
 "layer":[
  {"layer":[
    {"data":{"name":"dos"},
     "encoding":{
      "x":{"field":"d","type":"quantitative","scale":{"domain":[0,9.95],"nice":false,"zero":false},"axis":{"values":[0,2,4,6,8],"tickSize":-4,"labelPadding":5,"domain":false,"title":null,"labelFontSize":13}},
      "y":{"field":"e","type":"quantitative","scale":{"domain":[-4.55,4.05],"nice":false,"zero":false},"axis":{"values":[-4,-3,-2,-1,0,1,2,3,4],"labels":false,"tickSize":-4,"domain":false,"title":null}},
      "color":{"field":"p","type":"nominal","scale":{"domain":[0,6,12,24,36],"range":["#1414f0","#2a72b5","#88cdf8","#ffa500","#c0142e"]},"legend":null},
      "order":{"field":"e","type":"quantitative"}},
     "layer":[
      {"transform":[{"filter":"datum.p == 0"}],"mark":{"type":"line","strokeWidth":1.6,"clip":true}},
      {"transform":[{"filter":"datum.p == 6"}],"mark":{"type":"line","strokeWidth":1.6,"clip":true}},
      {"transform":[{"filter":"datum.p == 12"}],"mark":{"type":"line","strokeWidth":1.6,"clip":true}},
      {"transform":[{"filter":"datum.p == 24"}],"mark":{"type":"line","strokeWidth":1.6,"clip":true}},
      {"transform":[{"filter":"datum.p == 36"}],"mark":{"type":"line","strokeWidth":1.6,"clip":true}}
     ]},
    {"data":{"values":[{}]},"mark":{"type":"rule","strokeDash":[4,3],"color":"black","strokeWidth":1},
     "encoding":{"y":{"datum":0,"type":"quantitative","scale":{"domain":[-4.55,4.05],"nice":false,"zero":false},
       "axis":{"orient":"right","values":[-4,-3,-2,-1,0,1,2,3,4],"labels":false,"tickSize":-4,"domain":false,"title":null}}}}
   ],
   "resolve":{"axis":{"y":"independent"}}},
  {"data":{"name":"nf"},
   "encoding":{
    "x":{"field":"p","type":"quantitative","scale":{"domain":[0,36],"range":[75,154],"nice":false,"zero":false},
         "axis":{"orient":"bottom","offset":-141,"values":[0,12,24,36],"labelFontSize":11,"title":"P (GPa)","titleFontSize":11,"titlePadding":3,"labelPadding":1,"tickSize":3,"domain":true,"domainColor":"black"}},
    "y":{"field":"n","type":"quantitative","scale":{"domain":[1.235,1.462],"range":[75,8.5],"nice":false,"zero":false},
         "axis":{"orient":"left","offset":-75,"values":[1.25,1.3,1.35,1.4,1.45],"format":"~g","labelFontSize":11,"title":"Nꜰ","titleFontSize":11,"titleFontStyle":"italic","titlePadding":1,"labelPadding":1,"tickSize":3,"domain":true,"domainColor":"black"}}},
   "layer":[
    {"mark":{"type":"line","color":"#2f7fbf","strokeWidth":1.3},
     "encoding":{
      "x":{"field":"p","type":"quantitative","axis":{"orient":"top","offset":-8.5,"labels":false,"ticks":false,"domain":true,"domainColor":"black","title":null,"grid":false}},
      "y":{"field":"n","type":"quantitative","axis":{"orient":"right","offset":-13,"labels":false,"ticks":false,"domain":true,"domainColor":"black","title":null,"grid":false}}}},
    {"mark":{"type":"point","filled":true,"size":50,"opacity":1},
     "encoding":{"color":{"field":"p","type":"nominal","scale":{"domain":[0,6,12,24,36],"range":["#1414f0","#2a72b5","#88cdf8","#ffa500","#c0142e"]},"legend":null}}}
   ],
   "resolve":{"axis":{"x":"independent","y":"independent"}}}
 ],
 "resolve":{"scale":{"x":"independent","y":"independent"},"axis":{"x":"independent","y":"independent"}}}
]}
